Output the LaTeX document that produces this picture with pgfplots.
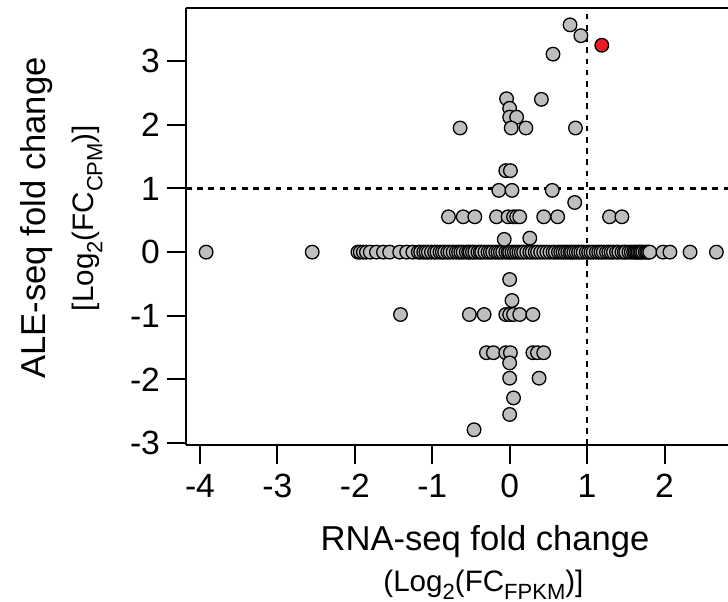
\documentclass[border=0pt]{standalone}
\usepackage{fontspec}
\setmainfont{Liberation Sans}
\usepackage{pgfplots}
\pgfplotsset{compat=1.18}
\definecolor{ptgray}{RGB}{190,190,190}
\definecolor{ptred}{RGB}{236,28,36}
\newcommand{\lowsub}[1]{\raisebox{-0.28em}{\fontsize{11}{12}\selectfont #1}}
\tikzset{
  refline/.style={line width=1.1pt, draw=black, dash pattern=on 2.8pt off 2.8pt},
}

\begin{document}
\begin{tikzpicture}
\begin{axis}[
  scale only axis, width=271pt, height=218.5pt,
  xmin=-4.18, xmax=2.82, ymin=-3.03, ymax=3.835,
  axis x line=bottom, axis y line=left,
  axis line style={-, line width=1pt, black},
  xtick={-4,-3,-2,-1,0,1,2}, ytick={-3,-2,-1,0,1,2,3},
  tick align=outside, major tick length=9.5pt,
  tick style={line width=1pt, black},
  /pgf/number format/assume math mode=true,
  tick label style={font=\fontsize{16.8}{19}\selectfont},
  xticklabel style={yshift=-1.5pt},
  clip=false,
]
%% grey points: the crowded row at y = 0
\addplot[only marks, mark=*, mark size=3.4pt, draw=black, fill=ptgray, line width=0.65pt]
  coordinates {
    (-3.92,0) (-2.55,0) (-1.96,0) (-1.93,0) (-1.89,0) (-1.85,0) (-1.80,0)
    (-1.72,0) (-1.63,0) (-1.55,0) (-1.42,0) (-1.33,0) (-1.25,0)
    (-1.18,0) (-1.15,0) (-1.11,0) (-1.08,0) (-1.05,0) (-1.01,0) (-0.97,0)
    (-0.94,0) (-0.90,0) (-0.87,0) (-0.84,0) (-0.80,0) (-0.77,0) (-0.73,0)
    (-0.69,0) (-0.66,0) (-0.63,0) (-0.60,0) (-0.56,0) (-0.53,0) (-0.51,0)
    (-0.48,0) (-0.45,0) (-0.41,0) (-0.38,0) (-0.36,0) (-0.32,0) (-0.28,0)
    (-0.25,0) (-0.22,0) (-0.18,0) (-0.15,0) (-0.12,0) (-0.09,0) (-0.05,0)
    (-0.02,0) (0.00,0) (0.03,0) (0.06,0) (0.09,0) (0.12,0) (0.15,0)
    (0.18,0) (0.22,0) (0.26,0) (0.29,0) (0.33,0) (0.36,0) (0.40,0)
    (0.44,0) (0.48,0) (0.52,0) (0.56,0) (0.59,0) (0.63,0) (0.66,0)
    (0.69,0) (0.72,0) (0.75,0) (0.78,0) (0.80,0) (0.83,0) (0.86,0)
    (0.89,0) (0.92,0) (0.95,0) (0.99,0) (1.02,0) (1.05,0) (1.08,0)
    (1.12,0) (1.15,0) (1.18,0) (1.21,0) (1.25,0) (1.28,0) (1.31,0)
    (1.34,0) (1.38,0) (1.41,0) (1.45,0) (1.48,0) (1.50,0) (1.54,0)
    (1.57,0) (1.60,0) (1.62,0) (1.64,0) (1.66,0) (1.68,0) (1.70,0)
    (1.72,0) (1.75,0) (1.77,0) (1.79,0) (1.81,0)
    (1.98,0) (2.07,0) (2.33,0) (2.67,0)
  };
%% grey points above and below the row
\addplot[only marks, mark=*, mark size=3.4pt, draw=black, fill=ptgray, line width=0.65pt]
  coordinates {
    (0.78,3.57) (0.92,3.40) (0.56,3.11)
    (-0.04,2.41) (0.41,2.40) (0.00,2.26) (0.00,2.12) (0.09,2.12)
    (-0.64,1.95) (0.02,1.95) (0.21,1.95) (0.85,1.95)
    (-0.05,1.28) (0.01,1.28)
    (-0.14,0.97) (0.03,0.97) (0.55,0.97)
    (0.84,0.78)
    (-0.79,0.555) (-0.60,0.555) (-0.45,0.555) (-0.17,0.555) (-0.02,0.555)
    (0.05,0.555) (0.09,0.555) (0.13,0.555) (0.44,0.555) (0.62,0.555)
    (1.29,0.555) (1.45,0.555)
    (-0.07,0.20) (0.26,0.22)
    (0.00,-0.43) (0.03,-0.76)
    (-1.41,-0.98) (-0.52,-0.98) (-0.33,-0.98) (-0.05,-0.98) (0.00,-0.98)
    (0.05,-0.98) (0.13,-0.98) (0.30,-0.98)
    (-0.30,-1.58) (-0.21,-1.58) (-0.05,-1.58) (0.01,-1.58) (0.30,-1.58)
    (0.36,-1.58) (0.44,-1.58)
    (0.00,-1.74) (0.00,-1.98) (0.38,-1.98)
    (0.05,-2.29) (0.00,-2.55) (-0.46,-2.79)
  };
%% highlighted point
\addplot[only marks, mark=*, mark size=3.4pt, draw=black, fill=ptred, line width=0.65pt]
  coordinates {(1.19,3.25)};
%% thresholds
\draw[refline] (axis cs:-4.18,1) -- (axis cs:2.82,1);
\draw[refline] (axis cs:1,-3.03) -- (axis cs:1,3.835);
%% top border
\draw[line width=1pt] (rel axis cs:0,1) -- (rel axis cs:1,1);
%% axis titles
\node[anchor=base, inner sep=0pt, font=\fontsize{17.3}{20}\selectfont]
  at ([shift={(149.5pt,-52.5pt)}]rel axis cs:0,0) {RNA-seq fold change};
\node[anchor=base, inner sep=0pt, font=\fontsize{14.8}{17}\selectfont]
  at ([shift={(148.7pt,-73pt)}]rel axis cs:0,0) {(Log\lowsub{2}(FC\lowsub{FPKM})]};
\node[anchor=base, rotate=90, inner sep=0pt, font=\fontsize{17.3}{20}\selectfont]
  at ([shift={(-70pt,113.5pt)}]rel axis cs:0,0) {ALE-seq fold change};
\node[anchor=base, rotate=90, inner sep=0pt, font=\fontsize{14.8}{17}\selectfont]
  at ([shift={(-46pt,113.5pt)}]rel axis cs:0,0) {[Log\lowsub{2}(FC\lowsub{CPM})]};
\coordinate (bbl) at ([shift={(-93pt,-78pt)}]rel axis cs:0,0);
\coordinate (bbr) at ([shift={(0pt,4pt)}]rel axis cs:1,1);
\end{axis}
\pgfresetboundingbox
\path[use as bounding box] (bbl) rectangle (bbr);
\end{tikzpicture}
\end{document}
